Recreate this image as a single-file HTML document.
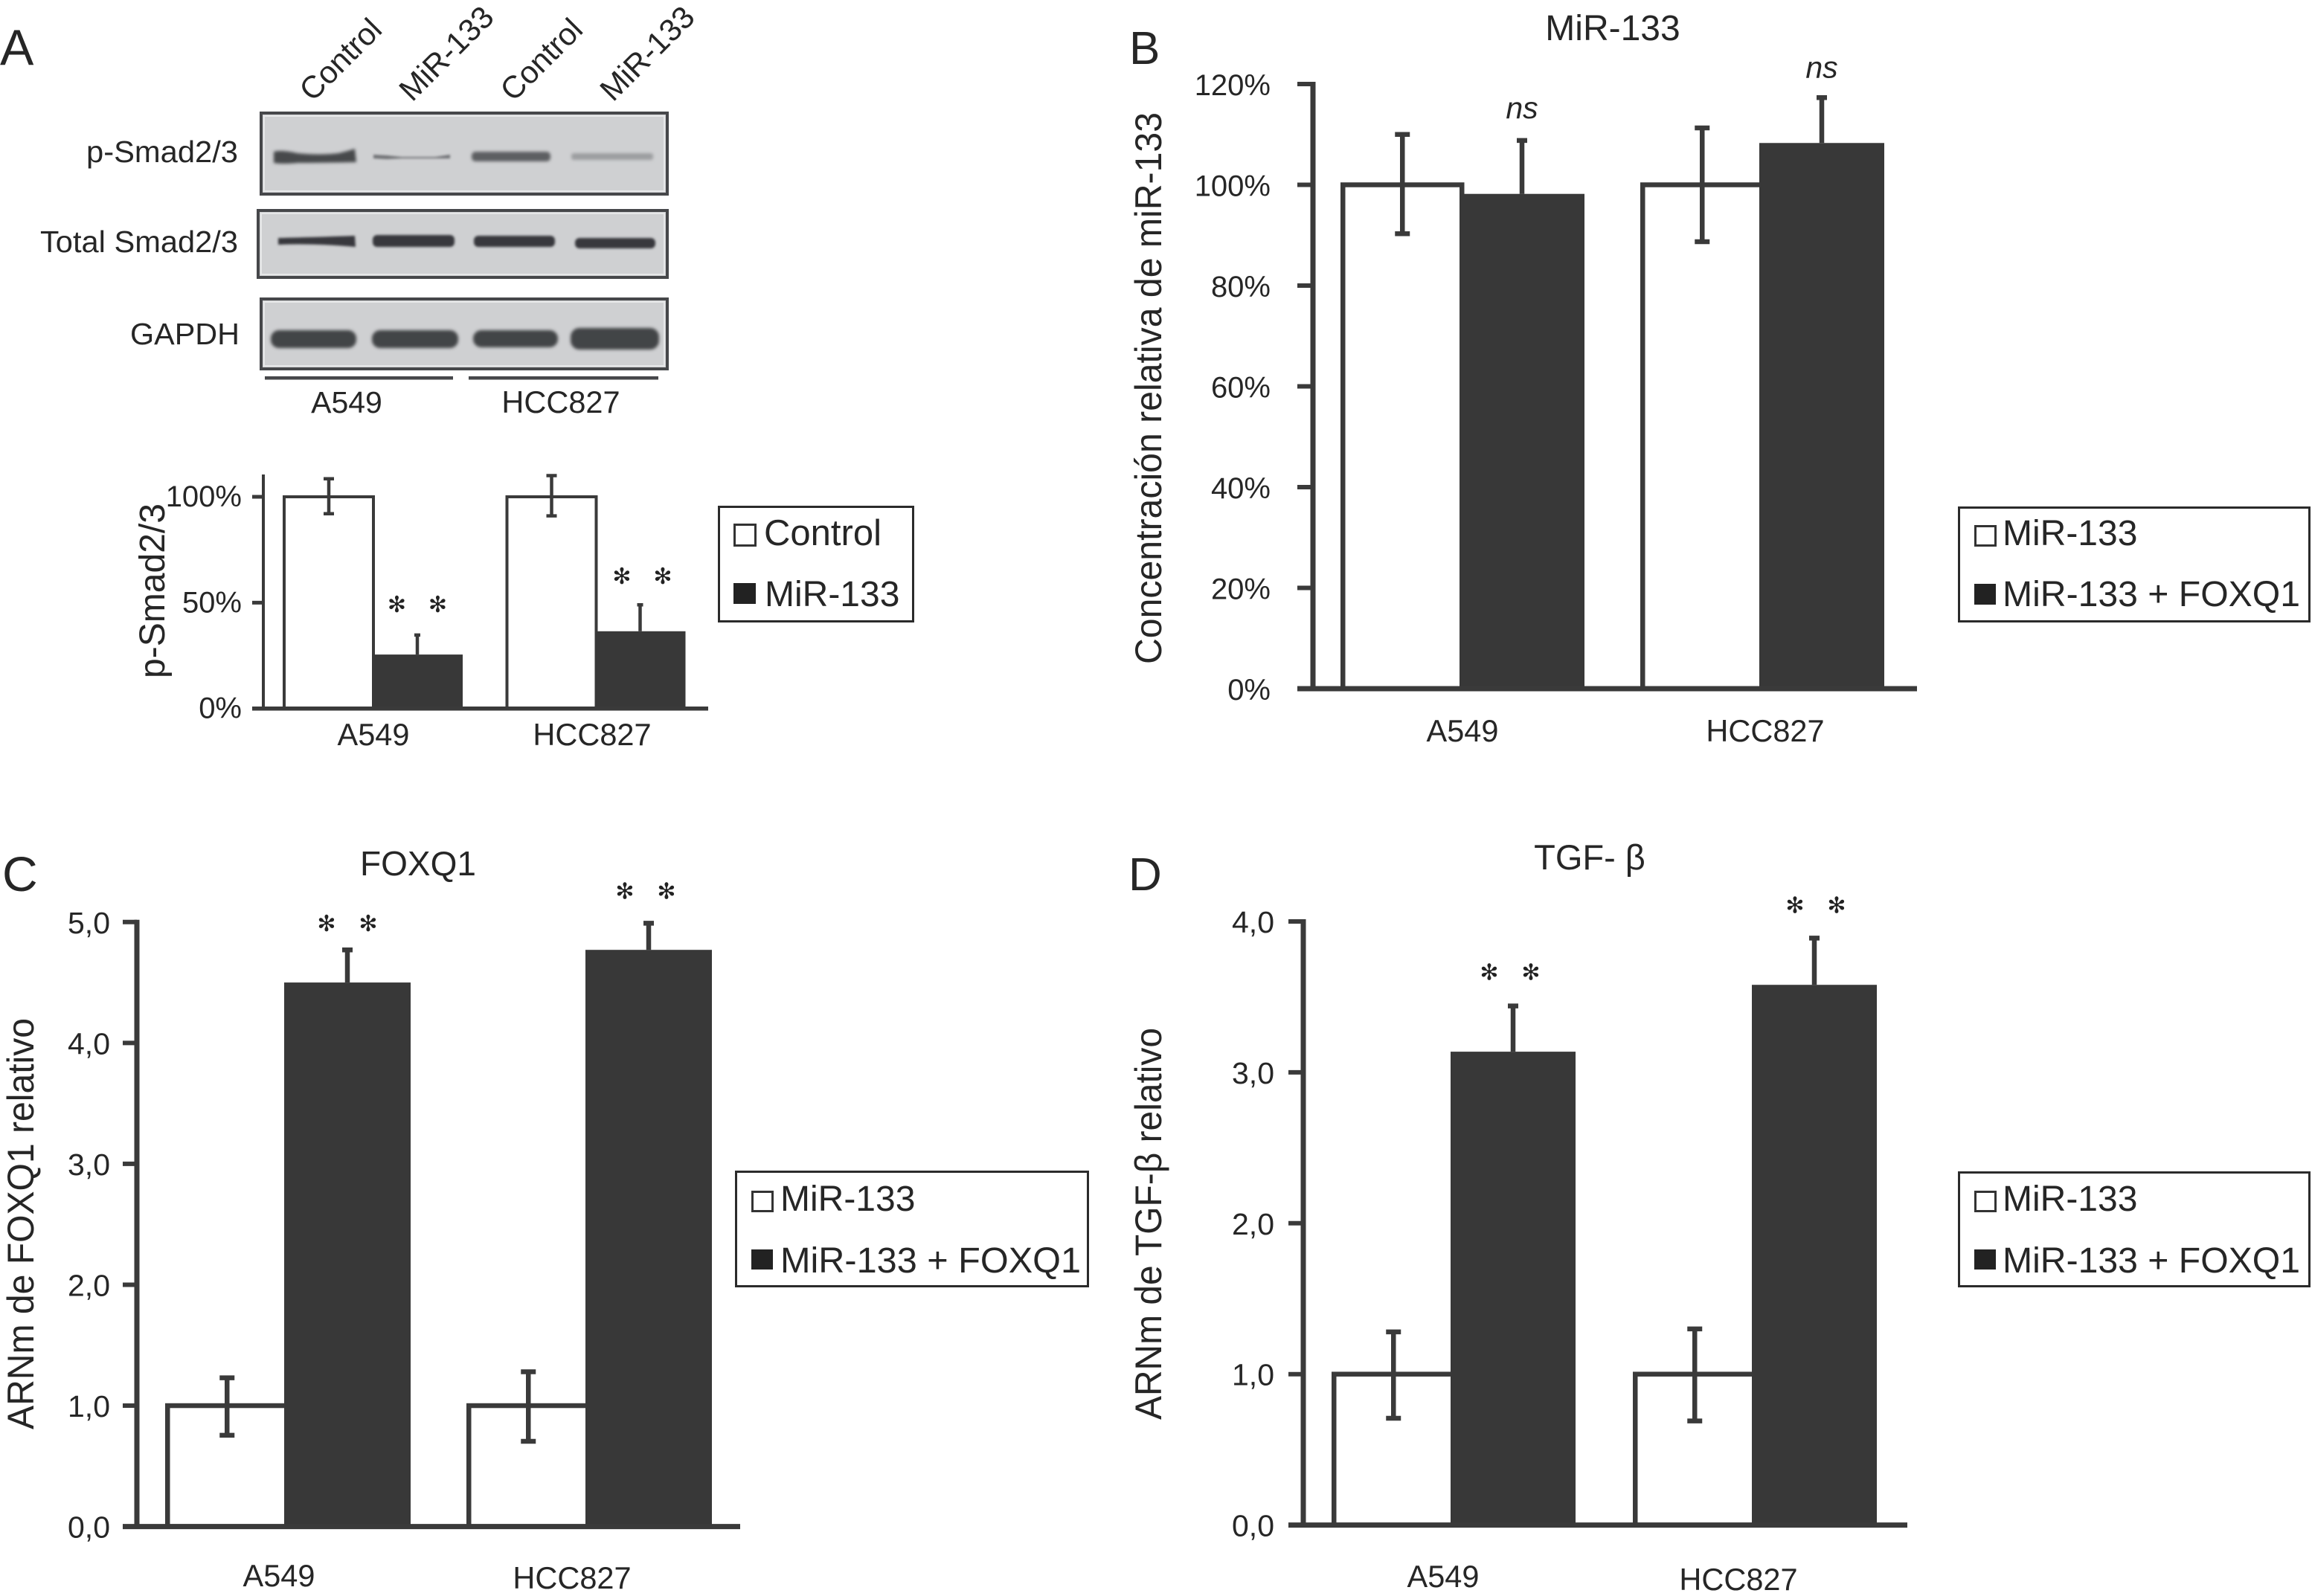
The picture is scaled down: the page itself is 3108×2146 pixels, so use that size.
<!DOCTYPE html>
<html lang="es">
<head>
<meta charset="utf-8">
<title>MiR-133 figure</title>
<style>
html,body{margin:0;padding:0;background:#fff;}
svg{display:block;}
text{font-family:"Liberation Sans",sans-serif;fill:#262626;}
</style>
</head>
<body>
<svg id="figure" xmlns="http://www.w3.org/2000/svg" width="3108" height="2146" viewBox="0 0 3108 2146">
<defs>
<filter id="b1" x="-20%" y="-80%" width="140%" height="260%"><feGaussianBlur stdDeviation="2.2"/></filter>
<filter id="b2" x="-20%" y="-80%" width="140%" height="260%"><feGaussianBlur stdDeviation="1.5"/></filter>
</defs>
<rect width="3108" height="2146" fill="#fff"/>

<text x="0" y="87" font-size="68">A</text>
<text x="1518" y="86" font-size="62">B</text>
<text x="3" y="1198" font-size="66">C</text>
<text x="1517" y="1197" font-size="62">D</text>

<g font-size="42">
<text transform="translate(420 138) rotate(-45)">Control</text>
<text transform="translate(554 138) rotate(-45)">MiR-133</text>
<text transform="translate(690 138) rotate(-45)">Control</text>
<text transform="translate(824 138) rotate(-45)">MiR-133</text>
</g>

<g font-size="41" text-anchor="end">
<text x="320" y="218" textLength="204" lengthAdjust="spacingAndGlyphs">p-Smad2/3</text>
<text x="320" y="339" textLength="266" lengthAdjust="spacingAndGlyphs">Total Smad2/3</text>
<text x="322" y="463" textLength="147" lengthAdjust="spacingAndGlyphs">GAPDH</text>
</g>

<g>
<rect x="351" y="152" width="546" height="109" fill="#cfd0d2" stroke="#46474a" stroke-width="4"/>
<rect x="355" y="156" width="538" height="101" fill="none" stroke="#e6e7e8" stroke-width="2"/>
<g filter="url(#b1)">
<path d="M368 204 Q378 201 400 206 Q430 209 455 206 Q468 203 477 200 L479 218 Q430 219 400 219 Q380 221 368 219 Z" fill="#47494c"/>
<rect x="634" y="204" width="106" height="13" rx="5" fill="#5d5f62"/>
<rect x="768" y="206" width="110" height="9" rx="3" fill="#9c9ea0"/>
</g>
<g filter="url(#b2)">
<path d="M502 208 L520 209 L540 211 L585 211 L605 208 L605 213 L585 213 L540 213 L520 214 L502 213 Z" fill="#6f7174"/>
</g>
</g>

<g>
<rect x="347" y="283" width="550" height="90" fill="#cfd0d2" stroke="#46474a" stroke-width="4"/>
<rect x="351" y="287" width="542" height="82" fill="none" stroke="#e6e7e8" stroke-width="2"/>
<g filter="url(#b2)" fill="#37393c">
<path d="M374 320 Q420 319 477 317 L478 332 Q420 327 374 329 Z"/>
<rect x="501" y="316" width="110" height="16" rx="6"/>
<rect x="637" y="317" width="109" height="15" rx="6"/>
<rect x="773" y="320" width="108" height="14" rx="6"/>
</g>
</g>

<g>
<rect x="351" y="402" width="546" height="94" fill="#cfd0d2" stroke="#46474a" stroke-width="4"/>
<rect x="355" y="406" width="538" height="86" fill="none" stroke="#e6e7e8" stroke-width="2"/>
<g filter="url(#b1)" fill="#424447">
<rect x="364" y="444" width="115" height="24" rx="11"/>
<rect x="500" y="444" width="116" height="24" rx="11"/>
<rect x="636" y="444" width="114" height="23" rx="11"/>
<rect x="767" y="441" width="119" height="29" rx="12"/>
</g>
</g>

<rect x="356" y="506" width="253" height="4.5" fill="#46474a"/>
<rect x="630" y="506" width="255" height="4.5" fill="#46474a"/>
<text x="466" y="555" font-size="41" text-anchor="middle">A549</text>
<text x="754" y="555" font-size="41.5" text-anchor="middle">HCC827</text>

<text x="2168" y="54" font-size="48" text-anchor="middle">MiR-133</text>
<text x="562" y="1177" font-size="46" text-anchor="middle">FOXQ1</text>
<text x="2137" y="1169" font-size="47" text-anchor="middle">TGF- β</text>

<text transform="translate(221 912) rotate(-90)" font-size="48" textLength="235" lengthAdjust="spacingAndGlyphs">p-Smad2/3</text>
<text transform="translate(1561 893) rotate(-90)" font-size="50" textLength="742" lengthAdjust="spacingAndGlyphs">Concentración relativa de miR-133</text>
<text transform="translate(45 1922) rotate(-90)" font-size="50" textLength="553" lengthAdjust="spacingAndGlyphs">ARNm de FOXQ1 relativo</text>
<text transform="translate(1561 1909) rotate(-90)" font-size="50" textLength="527" lengthAdjust="spacingAndGlyphs">ARNm de TGF-β relativo</text>

<g id="chart-a"></g>
<g id="chart-b"></g>
<g id="chart-c"></g>
<g id="chart-d"></g>

<g>
<rect x="966.5" y="681.5" width="261" height="154" fill="#fff" stroke="#2b2b2b" stroke-width="3"/>
<rect x="987.5" y="705.5" width="28" height="28" fill="#fff" stroke="#333" stroke-width="3"/>
<rect x="986" y="784" width="30" height="28" fill="#222"/>
<text x="1027" y="733" font-size="49">Control</text>
<text x="1028" y="815" font-size="48">MiR-133</text>
</g>

<g>
<rect x="2633.5" y="682.5" width="471" height="153" fill="#fff" stroke="#2b2b2b" stroke-width="3"/>
<rect x="2655.5" y="707.5" width="27" height="26" fill="#fff" stroke="#333" stroke-width="3"/>
<rect x="2654" y="785" width="29" height="28" fill="#222"/>
<text x="2692" y="733" font-size="48">MiR-133</text>
<text x="2692" y="815" font-size="48" textLength="400" lengthAdjust="spacingAndGlyphs">MiR-133 + FOXQ1</text>
</g>

<g>
<rect x="989.5" y="1575.5" width="473" height="154" fill="#fff" stroke="#2b2b2b" stroke-width="3"/>
<rect x="1011.5" y="1602.5" width="27" height="26" fill="#fff" stroke="#333" stroke-width="3"/>
<rect x="1010" y="1680" width="29" height="27" fill="#222"/>
<text x="1049" y="1628" font-size="48">MiR-133</text>
<text x="1049" y="1711" font-size="48" textLength="404" lengthAdjust="spacingAndGlyphs">MiR-133 + FOXQ1</text>
</g>

<g>
<rect x="2633.5" y="1576.5" width="471" height="153" fill="#fff" stroke="#2b2b2b" stroke-width="3"/>
<rect x="2655.5" y="1602.5" width="27" height="26" fill="#fff" stroke="#333" stroke-width="3"/>
<rect x="2654" y="1680" width="29" height="27" fill="#222"/>
<text x="2692" y="1628" font-size="48">MiR-133</text>
<text x="2692" y="1711" font-size="48" textLength="400" lengthAdjust="spacingAndGlyphs">MiR-133 + FOXQ1</text>
</g>
</svg>

<script>
// Shared categories
const categories = ['A549', 'HCC827'];

// Panel A values
const aControl = [100, 100];
const aControlHigh = [108.5, 110];
const aControlLow = [92, 91];
const aMir = [25.5, 36.5];
const aMirHigh = [34.7, 49];
const aTicks = [0, 50, 100];
const aTickLabels = ['0%', '50%', '100%'];
const aMarks = ['✻ ✻', '✻ ✻'];

// Panel B values
const bMir = [100, 100];
const bMirHigh = [110, 111.3];
const bMirLow = [90.3, 88.7];
const bFoxq = [98.2, 108.3];
const bFoxqHigh = [108.8, 117.3];
const bTicks = [0, 20, 40, 60, 80, 100, 120];
const bTickLabels = ['0%', '20%', '40%', '60%', '80%', '100%', '120%'];
const bMarks = ['ns', 'ns'];

// Panel C values
const cMir = [1, 1];
const cMirHigh = [1.23, 1.28];
const cMirLow = [0.755, 0.705];
const cFoxq = [4.5, 4.77];
const cFoxqHigh = [4.77, 4.99];
const cTicks = [0, 1, 2, 3, 4, 5];
const cTickLabels = ['0,0', '1,0', '2,0', '3,0', '4,0', '5,0'];
const cMarks = ['✻ ✻', '✻ ✻'];

// Panel D values
const dMir = [1, 1];
const dMirHigh = [1.28, 1.3];
const dMirLow = [0.708, 0.69];
const dFoxq = [3.137, 3.58];
const dFoxqHigh = [3.44, 3.89];
const dTicks = [0, 1, 2, 3, 4];
const dTickLabels = ['0,0', '1,0', '2,0', '3,0', '4,0'];
const dMarks = ['✻ ✻', '✻ ✻'];

const SVG_NS = 'http://www.w3.org/2000/svg';
const INK = '#3a3a3a';
const BAR_DARK = '#383838';

function svgEl(tag, attrs, parent) {
  const el = document.createElementNS(SVG_NS, tag);
  Object.keys(attrs).forEach(function (k) { el.setAttribute(k, attrs[k]); });
  parent.appendChild(el);
  return el;
}

function drawPanel(id, data, layout) {
  const root = document.getElementById(id);
  const yMin = data.ticks[0];
  const yMax = data.ticks[data.ticks.length - 1];
  const yScale = function (v) {
    return layout.yZero + (v - yMin) * (layout.yTop - layout.yZero) / (yMax - yMin);
  };
  const whiteX = function (i) { return layout.left + i * layout.step; };
  const darkX = function (i) { return layout.left + layout.whiteW + i * layout.step; };

  data.categories.forEach(function (cat, i) {
    const top = yScale(data.white[i]);
    const half = layout.sw / 2;
    const whiteBar = svgEl('rect', {
      x: whiteX(i) + half, y: top, width: layout.whiteW, height: layout.yZero - top,
      fill: '#fff', stroke: INK, 'stroke-width': layout.sw
    }, root);
    
    
  });

  data.categories.forEach(function (cat, i) {
    const top = yScale(data.dark[i]);
    const darkBar = svgEl('rect', {
      x: darkX(i), y: top, width: layout.darkW, height: layout.yZero - top, fill: BAR_DARK
    }, root);
    
    
  });

  data.categories.forEach(function (cat, i) {
    const xW = whiteX(i) + layout.whiteW / 2 + layout.sw / 2;
    const hi = yScale(data.whiteHigh[i]);
    const lo = yScale(data.whiteLow[i]);
    const whiteErr = svgEl('path', {
      d: 'M' + xW + ' ' + hi + 'V' + lo +
         'M' + (xW - layout.cap) + ' ' + hi + 'H' + (xW + layout.cap) +
         'M' + (xW - layout.cap) + ' ' + lo + 'H' + (xW + layout.cap),
      stroke: INK, 'stroke-width': layout.err, fill: 'none'
    }, root);
    
    

    const xD = darkX(i) + layout.darkW / 2;
    const dHi = yScale(data.darkHigh[i]);
    const dBase = yScale(data.dark[i]);
    const darkErr = svgEl('path', {
      d: 'M' + xD + ' ' + dHi + 'V' + dBase +
         'M' + (xD - layout.capDark) + ' ' + dHi + 'H' + (xD + layout.capDark),
      stroke: INK, 'stroke-width': layout.err, fill: 'none'
    }, root);
    
    

    const markY = dHi - layout.markGap[i];
    if (data.marks[i] === 'ns') {
      const ns = svgEl('text', {
        x: xD, y: markY, 'font-size': 41, 'font-style': 'italic', 'text-anchor': 'middle'
      }, root);
      
      
      ns.textContent = data.marks[i];
    } else {
      data.marks[i].split(' ').forEach(function (m, k) {
        const star = svgEl('text', {
          x: xD + layout.markDx[i] + (k === 0 ? -layout.markSep : layout.markSep),
          y: markY + 11, 'font-size': 30, 'text-anchor': 'middle',
          style: 'font-family:"DejaVu Sans",sans-serif;fill:#222'
        }, root);
        
        
        star.textContent = m;
      });
    }

    const catLabel = svgEl('text', {
      x: layout.catX[i], y: layout.catY[i], 'font-size': layout.catSize, 'text-anchor': 'middle'
    }, root);
    
    
    catLabel.textContent = cat;
  });

  const yAxis = svgEl('line', {
    x1: layout.axisX, x2: layout.axisX, y1: layout.axisTop === undefined ? layout.yTop - layout.tickW / 2 : layout.axisTop, y2: layout.yZero,
    stroke: INK, 'stroke-width': layout.axisW
  }, root);
  
  

  const xAxis = svgEl('line', {
    x1: layout.axisX - layout.tickLen, x2: layout.axisEnd, y1: layout.yZero, y2: layout.yZero,
    stroke: INK, 'stroke-width': layout.baseW
  }, root);
  
  

  data.ticks.forEach(function (t, i) {
    const y = yScale(t);
    const tick = svgEl('line', {
      x1: layout.axisX - layout.tickLen, x2: layout.axisX, y1: y, y2: y,
      stroke: INK, 'stroke-width': layout.tickW
    }, root);
    
    

    const label = svgEl('text', {
      x: layout.labelRight, y: y + layout.labelDy, 'font-size': layout.labelSize, 'text-anchor': 'end'
    }, root);
    
    
    label.textContent = data.tickLabels[i];
  });
}

drawPanel('chart-a',
  { categories: categories, white: aControl, whiteHigh: aControlHigh, whiteLow: aControlLow, dark: aMir, darkHigh: aMirHigh, ticks: aTicks, tickLabels: aTickLabels, marks: aMarks },
  { yZero: 952.7, yTop: 668, left: 380, whiteW: 120, darkW: 122, step: 299.5, sw: 4, err: 4.5, cap: 7, capDark: 4,
    axisX: 354, axisTop: 638, axisEnd: 952, axisW: 4, baseW: 5.5, tickLen: 15, tickW: 5,
    labelRight: 325, labelDy: 13, labelSize: 40, catX: [502, 796], catY: [1002, 1002], catSize: 41.5,
    markGap: [42, 39], markDx: [0, 3], markSep: 27.5 });

drawPanel('chart-b',
  { categories: categories, white: bMir, whiteHigh: bMirHigh, whiteLow: bMirLow, dark: bFoxq, darkHigh: bFoxqHigh, ticks: bTicks, tickLabels: bTickLabels, marks: bMarks },
  { yZero: 926, yTop: 113, left: 1802, whiteW: 160, darkW: 168, step: 403, sw: 6.5, err: 6.5, cap: 10, capDark: 7,
    axisX: 1765, axisEnd: 2577, axisW: 7, baseW: 7, tickLen: 21, tickW: 6,
    labelRight: 1708, labelDy: 15, labelSize: 40, catX: [1966, 2373], catY: [997, 997], catSize: 41.5,
    markGap: [30, 27], markDx: [0, 0], markSep: 28 });

drawPanel('chart-c',
  { categories: categories, white: cMir, whiteHigh: cMirHigh, whiteLow: cMirLow, dark: cFoxq, darkHigh: cFoxqHigh, ticks: cTicks, tickLabels: cTickLabels, marks: cMarks },
  { yZero: 2052.6, yTop: 1239.8, left: 222, whiteW: 160, darkW: 170, step: 405, sw: 6.5, err: 6.5, cap: 10, capDark: 7,
    axisX: 184, axisEnd: 995, axisW: 7, baseW: 7, tickLen: 19, tickW: 6,
    labelRight: 148, labelDy: 15, labelSize: 41, catX: [375, 769], catY: [2133, 2136], catSize: 41.5,
    markGap: [36, 44], markDx: [0, -4], markSep: 28 });

drawPanel('chart-d',
  { categories: categories, white: dMir, whiteHigh: dMirHigh, whiteLow: dMirLow, dark: dFoxq, darkHigh: dFoxqHigh, ticks: dTicks, tickLabels: dTickLabels, marks: dMarks },
  { yZero: 2050.6, yTop: 1239, left: 1790, whiteW: 160, darkW: 168, step: 405, sw: 6.5, err: 6.5, cap: 10, capDark: 7,
    axisX: 1752, axisEnd: 2564, axisW: 7, baseW: 7, tickLen: 20, tickW: 6,
    labelRight: 1713, labelDy: 15, labelSize: 41, catX: [1940, 2337], catY: [2134, 2138], catSize: 41.5,
    markGap: [46, 45], markDx: [-4, 2], markSep: 28 });
</script>
</body>
</html>
